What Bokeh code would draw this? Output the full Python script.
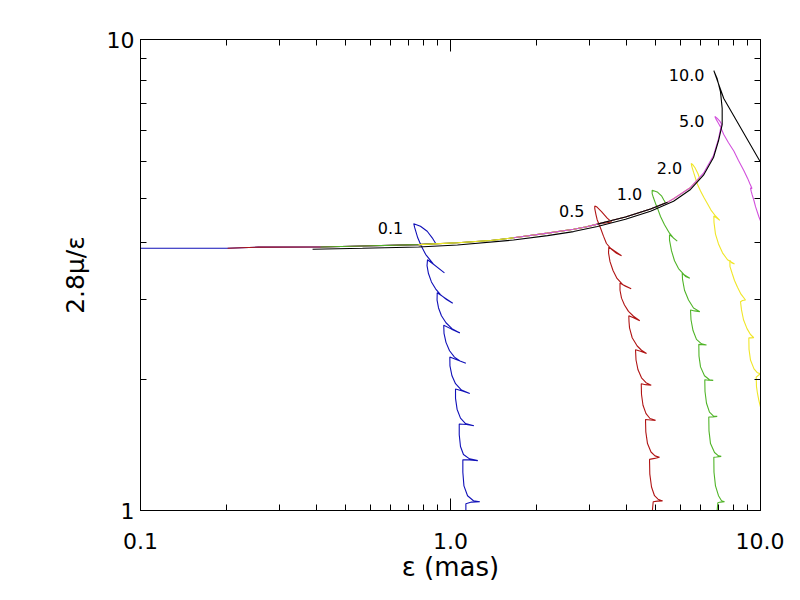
from bokeh.plotting import figure
from bokeh.models import LogAxis, FixedTicker, Range1d
from bokeh.core.properties import value
from bokeh.embed import file_html
from bokeh.resources import INLINE

# ---------------- data ----------------
x_major_ticks = [0.1, 1.0, 10.0]
x_tick_labels = ["0.1", "1.0", "10.0"]
x_minor_ticks = [0.19, 0.28, 0.37, 0.46, 0.55, 0.64, 0.73, 0.82, 0.91,
                 1.9, 2.8, 3.7, 4.6, 5.5, 6.4, 7.3, 8.2, 9.1]
y_major_ticks = [1.0, 10.0]
y_tick_labels = ["1", "10"]
y_minor_ticks = [1.9, 2.8, 3.7, 4.6, 5.5, 6.4, 7.3, 8.2, 9.1]

x_title = "ε (mas)"
y_title = "2.8μ/ε"

# common nearly flat track (epsilon, 2.8mu/eps)
track_x = [0.100, 0.191, 0.240, 0.381, 0.520, 0.789, 1.053, 1.346, 1.597,
           2.056, 2.494, 2.726, 2.980, 3.282, 3.669, 4.418, 5.012]
track_y = [3.604, 3.604, 3.624, 3.627, 3.645, 3.668, 3.703, 3.742, 3.793,
           3.880, 3.955, 3.997, 4.055, 4.121, 4.200, 4.368, 4.514]

blue_tail = [(0.895, 3.694), (0.873, 3.793), (0.841, 3.916), (0.800, 4.013), (0.761, 4.064),
             (0.767, 3.980), (0.784, 3.793), (0.805, 3.645), (0.831, 3.499), (0.881, 3.334),
             (0.956, 3.196), (0.888, 3.318), (0.843, 3.407), (0.840, 3.310), (0.849, 3.185),
             (0.868, 3.057), (0.895, 2.956), (0.928, 2.872), (0.971, 2.804), (1.017, 2.754),
             (0.956, 2.831), (0.906, 2.900), (0.905, 2.798), (0.915, 2.692), (0.935, 2.591),
             (0.967, 2.504), (1.011, 2.433), (1.072, 2.383), (1.008, 2.427), (0.951, 2.474),
             (0.953, 2.376), (0.967, 2.275), (0.993, 2.184), (1.030, 2.117), (1.073, 2.077),
             (1.121, 2.054), (1.053, 2.087), (0.995, 2.117), (0.996, 2.027), (1.011, 1.932),
             (1.038, 1.859), (1.085, 1.802), (1.154, 1.772), (1.093, 1.794), (1.038, 1.811),
             (1.038, 1.730), (1.050, 1.641), (1.077, 1.571), (1.118, 1.530), (1.189, 1.514),
             (1.126, 1.523), (1.067, 1.526), (1.067, 1.448), (1.077, 1.367), (1.101, 1.315),
             (1.152, 1.287), (1.225, 1.276), (1.152, 1.281), (1.096, 1.281), (1.096, 1.206),
             (1.105, 1.128), (1.135, 1.075), (1.186, 1.049), (1.243, 1.044), (1.169, 1.042),
             (1.121, 1.034), (1.121, 0.972)]

red_tail = [(3.307, 4.100), (3.203, 4.175), (3.070, 4.312), (2.969, 4.407), (2.920, 4.432),
            (2.920, 4.375), (2.946, 4.250), (2.972, 4.144), (3.047, 3.980), (3.115, 3.824),
            (3.185, 3.689), (3.307, 3.584), (3.432, 3.516), (3.562, 3.474), (3.381, 3.558),
            (3.241, 3.627), (3.234, 3.524), (3.270, 3.375), (3.344, 3.232), (3.445, 3.110),
            (3.601, 3.014), (3.827, 2.956), (3.669, 2.992), (3.522, 3.042), (3.522, 2.935),
            (3.562, 2.824), (3.641, 2.731), (3.751, 2.647), (3.893, 2.585), (4.079, 2.529),
            (3.893, 2.566), (3.760, 2.591), (3.766, 2.517), (3.780, 2.442), (3.856, 2.327),
            (4.002, 2.235), (4.132, 2.189), (4.289, 2.154), (4.101, 2.178), (3.952, 2.194),
            (3.967, 2.087), (4.026, 1.989), (4.132, 1.913), (4.273, 1.868), (4.441, 1.844),
            (4.256, 1.850), (4.124, 1.859), (4.132, 1.763), (4.178, 1.673), (4.273, 1.606),
            (4.401, 1.568), (4.585, 1.554), (4.418, 1.556), (4.256, 1.560), (4.266, 1.469),
            (4.320, 1.387), (4.434, 1.331), (4.568, 1.306), (4.723, 1.297), (4.551, 1.290),
            (4.385, 1.284), (4.395, 1.195), (4.451, 1.122), (4.551, 1.075), (4.671, 1.057),
            (4.830, 1.048), (4.653, 1.047), (4.507, 1.044), (4.483, 1.005), (4.472, 0.972)]

green_tail = [(4.938, 4.503), (4.877, 4.562), (4.793, 4.657), (4.643, 4.747), (4.472, 4.786),
              (4.472, 4.709), (4.516, 4.612), (4.585, 4.487), (4.671, 4.353), (4.758, 4.210),
              (4.902, 4.042), (5.087, 3.880), (5.242, 3.787), (5.388, 3.733), (5.202, 3.805),
              (5.087, 3.851), (5.087, 3.751), (5.164, 3.558), (5.280, 3.391), (5.439, 3.263),
              (5.687, 3.162), (5.915, 3.114), (5.730, 3.140), (5.591, 3.193), (5.604, 3.094),
              (5.687, 2.935), (5.858, 2.798), (6.081, 2.692), (6.372, 2.644), (6.126, 2.653),
              (5.946, 2.666), (5.968, 2.541), (6.058, 2.410), (6.216, 2.308), (6.452, 2.259),
              (6.696, 2.246), (6.500, 2.248), (6.324, 2.253), (6.333, 2.127), (6.405, 2.018),
              (6.597, 1.932), (6.846, 1.895), (7.038, 1.889), (6.796, 1.891), (6.611, 1.895),
              (6.622, 1.789), (6.696, 1.689), (6.846, 1.617), (7.054, 1.586), (7.250, 1.584),
              (7.003, 1.579), (6.810, 1.579), (6.821, 1.476), (6.898, 1.387), (7.107, 1.328),
              (7.320, 1.306), (7.469, 1.303), (7.212, 1.299), (7.070, 1.297), (7.079, 1.206),
              (7.158, 1.128), (7.320, 1.075), (7.486, 1.049), (7.655, 1.044), (7.430, 1.042),
              (7.283, 1.039), (7.250, 1.003), (7.239, 0.972)]

yellow_tail = [(5.242, 4.590), (5.946, 4.851), (6.357, 5.077), (6.286, 5.188), (6.148, 5.341),
               (6.035, 5.432), (5.977, 5.458), (6.003, 5.380), (6.081, 5.227), (6.249, 4.940),
               (6.405, 4.770), (6.563, 4.623), (6.745, 4.481), (6.923, 4.343), (7.158, 4.220),
               (7.390, 4.130), (7.212, 4.180), (7.070, 4.220), (7.079, 4.091), (7.158, 3.862),
               (7.320, 3.681), (7.541, 3.524), (7.827, 3.407), (8.244, 3.337), (8.063, 3.358),
               (7.962, 3.399), (7.973, 3.294), (8.104, 3.185), (8.244, 3.079), (8.430, 2.978),
               (8.652, 2.879), (8.946, 2.798), (8.749, 2.791), (8.620, 2.775), (8.684, 2.666),
               (8.814, 2.541), (9.046, 2.433), (9.283, 2.364), (9.515, 2.327), (9.319, 2.325),
               (9.170, 2.325), (9.183, 2.199), (9.283, 2.087), (9.529, 1.998), (9.779, 1.960),
               (10.00, 1.951), (9.852, 1.937), (9.685, 1.920), (9.707, 1.832), (9.779, 1.772),
               (9.874, 1.716), (10.00, 1.657), (10.22, 1.594)]

magenta_tail = [(5.242, 4.590), (5.946, 4.851), (6.548, 5.202), (7.054, 5.672), (7.320, 6.153),
                (7.486, 6.614), (7.390, 6.710), (7.239, 6.807), (7.124, 6.862), (7.187, 6.775),
                (7.294, 6.662), (7.430, 6.519), (7.612, 6.283), (7.885, 6.037), (8.202, 5.800),
                (8.492, 5.537), (8.834, 5.269), (9.081, 5.077), (9.250, 4.933), (9.389, 4.827),
                (9.283, 4.839), (9.333, 4.758), (9.402, 4.678), (9.529, 4.546), (9.637, 4.417),
                (9.874, 4.210), (10.07, 4.071)]

black_curve = [(0.359, 3.587), (0.520, 3.604), (0.789, 3.627), (1.053, 3.663), (1.597, 3.751),
               (2.056, 3.833), (2.494, 3.910), (2.980, 4.010), (3.669, 4.153), (4.418, 4.320),
               (5.242, 4.536), (5.946, 4.804), (6.548, 5.150), (7.054, 5.617), (7.320, 6.095),
               (7.523, 6.592), (7.523, 7.143), (7.430, 7.740), (7.250, 8.251), (7.070, 8.587),
               (7.612, 7.494), (9.874, 5.570), (10.00, 5.492)]

curve_labels = ["0.1", "0.5", "1.0", "2.0", "5.0", "10.0"]
label_x = [0.7035, 2.706, 4.153, 5.591, 6.597, 6.597]
label_y = [3.988, 4.333, 4.709, 5.328, 6.725, 8.419]

colors = {"blue": "#1010b8", "red": "#b01414", "green": "#50b428",
          "yellow": "#f0e628", "magenta": "#d250dc", "black": "#000000"}


def unzip(pairs):
    return [a for a, _ in pairs], [b for _, b in pairs]


bx, by = unzip(blue_tail)
rx, ry = unzip(red_tail)
gx, gy = unzip(green_tail)
yx, yy = unzip(yellow_tail)
mx, my = unzip(magenta_tail)
kx, ky = unzip(black_curve)

series = [
    ("blue", track_x[0:6] + bx, track_y[0:6] + by),
    ("red", track_x[1:13] + rx, track_y[1:13] + ry),
    ("green", track_x[3:16] + gx, track_y[3:16] + gy),
    ("yellow", track_x[5:17] + yx, track_y[5:17] + yy),
    ("magenta", track_x[8:17] + mx, track_y[8:17] + my),
    ("black", track_x[12:17], track_y[12:17]),
    ("black", kx, ky),
]

# ---------------- figure ----------------
p = figure(width=784, height=584, x_axis_type="log", y_axis_type="log",
           x_range=Range1d(0.1, 10.0), y_range=Range1d(1.0, 10.0),
           output_backend="svg", toolbar_location=None,
           min_border_left=140, min_border_right=24, min_border_top=39,
           min_border_bottom=65,
           background_fill_color="white", border_fill_color="white",
           outline_line_color="black", outline_line_width=1)
p.xgrid.visible = False
p.ygrid.visible = False


def style_axis(ax, major, minor, labels):
    ax.ticker = FixedTicker(ticks=major, minor_ticks=minor)
    ax.major_label_overrides = {t: l for t, l in zip(major, labels)}
    ax.major_tick_in = 12
    ax.major_tick_out = 0
    ax.minor_tick_in = 6
    ax.minor_tick_out = 0
    ax.axis_line_color = "black"
    ax.major_tick_line_color = "black"
    ax.minor_tick_line_color = "black"
    ax.axis_line_width = 1
    ax.major_label_text_font = "DejaVu Sans"
    ax.major_label_text_color = "black"
    ax.major_label_text_font_size = "22px"
    ax.axis_label_text_font = "DejaVu Sans"
    ax.axis_label_text_font_style = "normal"
    ax.axis_label_text_color = "black"


xb = p.xaxis[0]
yl = p.yaxis[0]
style_axis(xb, x_major_ticks, x_minor_ticks, x_tick_labels)
style_axis(yl, y_major_ticks, y_minor_ticks, y_tick_labels)
xb.axis_label = x_title
yl.axis_label = y_title
xb.axis_label_text_font_size = "26px"
yl.axis_label_text_font_size = "25px"
xb.major_label_standoff = 22
yl.major_label_standoff = 6
xb.axis_label_standoff = 0
yl.axis_label_standoff = 14

# frame ticks on the top and right sides (no labels there)
xt = LogAxis()
style_axis(xt, x_major_ticks, x_minor_ticks, ["", "", ""])
xt.major_label_standoff = 0
p.add_layout(xt, "above")
yr = LogAxis()
style_axis(yr, y_major_ticks, y_minor_ticks, ["", ""])
yr.major_label_standoff = 0
p.add_layout(yr, "right")

for cname, xs, ys in series:
    p.line(xs, ys, line_color=colors[cname], line_width=1.1)

p.text(x=label_x, y=label_y, text=curve_labels, text_align="right",
       text_baseline="middle", text_font=value("DejaVu Sans"),
       text_font_size="16px", text_color="black")

open("out.html", "w").write(file_html(p, INLINE))
